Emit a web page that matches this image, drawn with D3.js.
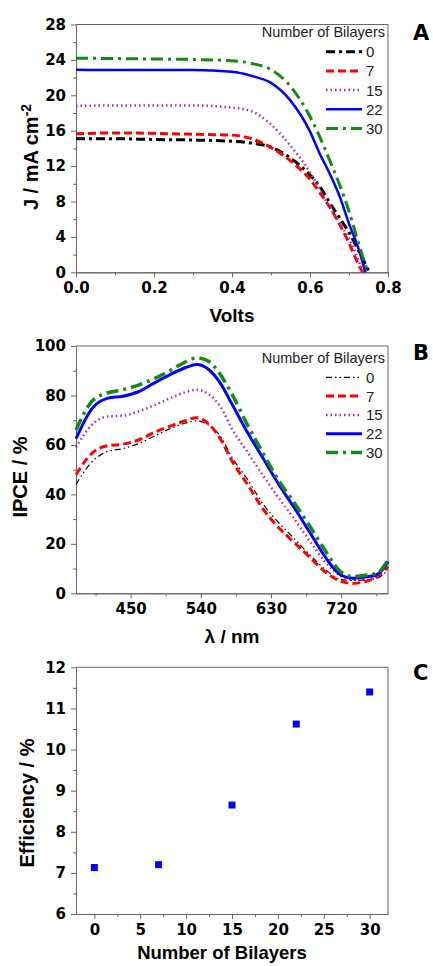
<!DOCTYPE html>
<html>
<head>
    <meta charset="utf-8">
    <title>Bilayers</title>
    <script type="text/javascript" src="https://cdn.jsdelivr.net/npm/d3@7"></script>
    <style>
        body { margin: 0; background: #fff; }
        .tick text { font-family: "DejaVu Sans", sans-serif; font-weight: bold; font-size: 15px; fill: #000; }
        .domain, .tick line { stroke: #666; }
        .title { font-family: "Liberation Sans", Arial, sans-serif; font-weight: bold; fill: #000; }
        .legend text { font-family: "Liberation Sans", Arial, sans-serif; fill: #222; }
    </style>
</head>
<body>
<script type="text/javascript">
    // series shared by panels A and B
    var bilayers = ["0", "7", "15", "22", "30"];
    var colors = ["#000000", "#ff0000", "#a82aa8", "#0000ff", "#138a13"];

    // panel A: J-V curves (J in mA cm-2)
    var voltsA = [0, 0.1, 0.2, 0.3, 0.4, 0.45, 0.5, 0.55, 0.6, 0.625, 0.65, 0.675, 0.7, 0.725];
    var jv0 = [15.1, 15.1, 15.0, 14.95, 14.8, 14.6, 14.15, 12.9, 11.0, 9.7, 7.9, 6.2, 4.5, 2.4];
    var jv7 = [15.65, 15.75, 15.7, 15.6, 15.5, 15.1, 14.1, 12.6, 10.5, 9.0, 7.4, 5.5, 3.3, 0.8];
    var jv15 = [18.8, 18.85, 18.85, 18.85, 18.6, 18.2, 16.7, 14.3, 11.3, 9.4, 7.4, 5.6, 3.8, 1.3];
    var jv22 = [22.9, 22.85, 22.85, 22.85, 22.65, 22.2, 21.4, 19.4, 15.9, 13.4, 11.2, 8.7, 5.5, 2.6];
    var jv30 = [24.2, 24.15, 24.1, 24.05, 23.9, 23.6, 22.9, 21.0, 17.6, 15.3, 12.7, 10.0, 6.9, 3.2];
    var vocA = [0.752, 0.735, 0.735, 0.742, 0.748];   // J = 0 here

    // panel B: IPCE spectra (%)
    var waveB = [380, 400, 420, 440, 460, 480, 500, 520, 535, 550, 565, 580, 600, 620, 640, 660, 680, 700, 720, 735, 750, 765, 780];
    var ipce0 = [44, 53, 57.3, 58.5, 60.5, 63.5, 66.5, 68.8, 69.7, 68, 63.5, 55, 46, 36, 28.5, 22, 15.5, 9.5, 5.5, 5.2, 5.4, 6, 9.4];
    var ipce7 = [48, 56.5, 59.7, 60.3, 62, 65, 67.5, 69.8, 71, 68.5, 62.5, 53.5, 44, 34, 26.5, 20.5, 14.5, 8.5, 4.8, 4, 4.7, 6.5, 10.8];
    var ipce15 = [59, 68, 71.5, 71.8, 73.5, 76, 78.8, 81.3, 82.3, 80.5, 75.5, 66.5, 57, 47.5, 38.5, 30, 21, 12.5, 7, 5.6, 5.4, 7, 12];
    var ipce22 = [62.5, 74.5, 78.8, 79.7, 81.5, 85, 88.3, 91.2, 92.5, 90.5, 85, 76.5, 65, 54.5, 44, 34.5, 24.5, 14.5, 7.3, 6.1, 6.6, 7.4, 12.8];
    var ipce30 = [66, 77.5, 81, 82.3, 84.2, 86.8, 90, 93.5, 95.2, 93.8, 88.5, 80.5, 68, 56.5, 45.5, 36.5, 27, 17, 8.5, 6.8, 7.3, 8, 13.5];

    // panel C: efficiency vs number of bilayers
    var layersC = [0, 7, 15, 22, 30];
    var effC = [7.13, 7.2, 8.65, 10.62, 11.4];

    var dashA = ["9,4,3,4", "8,4", "1.5,3", null, "12,5,3,5"];
    var widthA = [3, 3, 2.5, 2.5, 3];
    var dashB = ["6,3,1.5,3,1.5,3", "8,4", "1.5,3", null, "12,5,3,5"];
    var widthB = [1.2, 3, 2.5, 3, 3.5];

    var _left = 76, _right = 388;

    var svg = d3.select("body").append("svg")
            .attr("width", 433)
            .attr("height", 966);

    function panel(top, bottom, xDomain, yDomain, xTicks, xMinor, yTicks, yMinor, xFormat) {
        var x = d3.scaleLinear().domain(xDomain).range([_left, _right]);
        var y = d3.scaleLinear().domain(yDomain).range([bottom, top]);
        var g = svg.append("g");

        g.append("g").attr("transform", "translate(0," + bottom + ")")
                .call(d3.axisBottom(x).tickValues(xMinor).tickSize(3).tickSizeOuter(0).tickFormat(""));
        g.append("g").attr("transform", "translate(0," + bottom + ")")
                .call(d3.axisBottom(x).tickValues(xTicks).tickSize(5).tickSizeOuter(0).tickPadding(5).tickFormat(xFormat));
        g.append("g").attr("transform", "translate(" + _left + ",0)")
                .call(d3.axisLeft(y).tickValues(yMinor).tickSize(3).tickSizeOuter(0).tickFormat(""));
        g.append("g").attr("transform", "translate(" + _left + ",0)")
                .call(d3.axisLeft(y).tickValues(yTicks).tickSize(5).tickSizeOuter(0).tickPadding(5).tickFormat(d3.format("d")));

        // top and right border
        g.append("path")
                .attr("d", "M" + _left + "," + top + "H" + _right + "V" + bottom)
                .attr("fill", "none")
                .attr("stroke", "#666");

        return {x: x, y: y, g: g};
    }

    function legend(g, titleY, firstY, step, dashes, widths) {
        var lg = g.append("g").attr("class", "legend");
        lg.append("text")
                .attr("x", 385).attr("y", titleY)
                .attr("text-anchor", "end")
                .style("font-size", "14.5px")
                .text("Number of Bilayers");
        bilayers.forEach(function (b, i) {
            var yy = firstY + i * step;
            lg.append("line")
                    .attr("x1", 326).attr("x2", 362)
                    .attr("y1", yy).attr("y2", yy)
                    .attr("stroke", colors[i])
                    .attr("stroke-width", widths[i])
                    .attr("stroke-dasharray", dashes[i]);
            lg.append("text")
                    .attr("x", 366).attr("y", yy)
                    .attr("dy", "0.36em")
                    .style("font-size", "15px")
                    .text(b);
        });
    }

    function panelLetter(txt, y) {
        svg.append("text")
                .attr("class", "title")
                .attr("x", 413).attr("y", y)
                .style("font-size", "21px")
                .style("font-family", "'DejaVu Sans', sans-serif")
                .text(txt);
    }

    // ---- A ----
    var A = panel(24.5, 272.3, [0, 0.8], [0, 28],
            [0, 0.2, 0.4, 0.6, 0.8], [0.1, 0.3, 0.5, 0.7],
            d3.range(0, 29, 4), d3.range(2, 28, 4), d3.format(".1f"));

    var jvSeries = [jv0, jv7, jv15, jv22, jv30];
    var lineA = d3.line()
            .x(function (d) { return A.x(d[0]); })
            .y(function (d) { return A.y(d[1]); })
            .curve(d3.curveMonotoneX);

    jvSeries.forEach(function (js, i) {
        var pts = voltsA.map(function (v, k) { return [v, js[k]]; });
        pts.push([vocA[i], 0]);
        A.g.append("path")
                .attr("d", lineA(pts))
                .attr("fill", "none")
                .attr("stroke", colors[i])
                .attr("stroke-width", widthA[i])
                .attr("stroke-dasharray", dashA[i]);
    });

    legend(A.g, 37, 51.7, 19.2, dashA, widthA);

    svg.append("text").attr("class", "title")
            .attr("x", 232).attr("y", 322)
            .attr("text-anchor", "middle")
            .style("font-size", "19px")
            .text("Volts");

    var jLabel = svg.append("text").attr("class", "title")
            .attr("transform", "translate(38,157) rotate(-90)")
            .attr("text-anchor", "middle")
            .style("font-size", "20px");
    jLabel.append("tspan").text("J / mA cm");
    jLabel.append("tspan").attr("dy", "-0.5em").style("font-size", "14px").text("-2");

    panelLetter("A", 40);

    // ---- B ----
    var B = panel(346, 593.3, [380, 780], [0, 100],
            [450, 540, 630, 720], [405, 495, 585, 675, 765],
            d3.range(0, 101, 20), d3.range(10, 100, 20), d3.format("d"));

    var ipceSeries = [ipce0, ipce7, ipce15, ipce22, ipce30];
    var lineB = d3.line()
            .x(function (d, k) { return B.x(waveB[k]); })
            .y(function (d) { return B.y(d); })
            .curve(d3.curveMonotoneX);

    ipceSeries.forEach(function (s, i) {
        B.g.append("path")
                .attr("d", lineB(s))
                .attr("fill", "none")
                .attr("stroke", colors[i])
                .attr("stroke-width", widthB[i])
                .attr("stroke-dasharray", dashB[i]);
    });

    legend(B.g, 363, 377.3, 18.8, dashB, widthB);

    svg.append("text").attr("class", "title")
            .attr("x", 232).attr("y", 643)
            .attr("text-anchor", "middle")
            .style("font-size", "19px")
            .text("λ / nm");

    svg.append("text").attr("class", "title")
            .attr("transform", "translate(27,477) rotate(-90)")
            .attr("text-anchor", "middle")
            .style("font-size", "20px")
            .text("IPCE / %");

    panelLetter("B", 360);

    // ---- C ----
    var C = panel(667.3, 914, [-2, 32], [6, 12],
            d3.range(0, 31, 5), d3.range(2.5, 31, 5),
            d3.range(6, 13, 1), d3.range(6.5, 12, 1), d3.format("d"));

    C.g.selectAll("rect.pt")
            .data(layersC)
            .enter().append("rect")
            .attr("class", "pt")
            .attr("x", function (d) { return C.x(d) - 3.5; })
            .attr("y", function (d, i) { return C.y(effC[i]) - 3.5; })
            .attr("width", 7)
            .attr("height", 7)
            .attr("fill", "#0000ff");

    svg.append("text").attr("class", "title")
            .attr("x", 222).attr("y", 959)
            .attr("text-anchor", "middle")
            .style("font-size", "18.5px")
            .text("Number of Bilayers");

    svg.append("text").attr("class", "title")
            .attr("transform", "translate(34,803) rotate(-90)")
            .attr("text-anchor", "middle")
            .style("font-size", "20px")
            .text("Efficiency / %");

    panelLetter("C", 680);
</script>
</body>
</html>
